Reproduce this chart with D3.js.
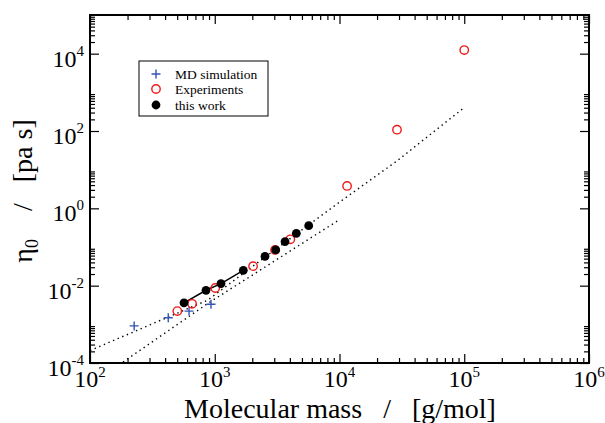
<!DOCTYPE html>
<html>
<head>
<meta charset="utf-8">
<title>Zero-shear viscosity vs molecular mass</title>
<style>
body { margin: 0; background: #fff; }
svg { display: block; }
</style>
</head>
<body>
<svg id="chart" width="605" height="423" font-family="'Liberation Serif', 'Times New Roman', Times, 'DejaVu Serif', 'Noto Serif', serif"></svg>
<script src="https://d3js.org/d3.v7.min.js"></script>
<script>
// data
const mdMass = [226, 424, 622, 933];
const mdEta = [9.1e-4, 1.48e-3, 2.2e-3, 3.3e-3];

const expMass = [501, 658, 1009, 2028, 3043, 4036, 11500, 28900, 100000];
const expEta = [2.2e-3, 3.4e-3, 8.7e-3, 0.032, 0.084, 0.158, 3.8, 108, 12400];

const workMass = [567, 851, 1122, 1694, 2529, 3080, 3659, 4508, 5662];
const workEta = [3.6e-3, 7.6e-3, 0.0113, 0.025, 0.057, 0.084, 0.137, 0.226, 0.356];

// dotted guide curves
const fitAMass = [100, 883, 2028, 10100, 28800, 98200];
const fitAEta = [2.1e-4, 4.26e-3, 0.0322, 1.48, 16.7, 386];
const fitBMass = [184, 883, 9900];
const fitBEta = [1.06e-4, 3.5e-3, 0.5];

const xMajor = [1e2, 1e3, 1e4, 1e5, 1e6];
const xExp = ["2", "3", "4", "5", "6"];
const yMajor = [1e-4, 1e-2, 1e0, 1e2, 1e4];
const yExp = ["-4", "-2", "0", "2", "4"];

const legendItems = ["MD simulation", "Experiments", "this work"];

const svg = d3.select("#chart");
const pLeft = 90, pRight = 589, pTop = 15, pBottom = 363;
const nb = "\u00a0";

const x = d3.scaleLog().domain([1e2, 1e6]).range([pLeft, pRight]);
const y = d3.scaleLog().domain([1e-4, 1e5]).range([pBottom, pTop]);

// minor ticks: 2..9 in each decade (x), and in the decade after each labelled major (y)
const xMinor = [];
[2, 3, 4, 5].forEach(p => { for (let k = 2; k <= 9; k++) xMinor.push(k * Math.pow(10, p)); });
const yMinor = [];
[-4, -2, 0, 2, 4].forEach(p => { for (let k = 2; k <= 9; k++) yMinor.push(k * Math.pow(10, p)); });

const pts = (ms, es) => ms.map((m, i) => [m, es[i]]);
const line = d3.line().x(d => x(d[0])).y(d => y(d[1]));

// dotted curves
[pts(fitAMass, fitAEta), pts(fitBMass, fitBEta)].forEach(p => {
  svg.append("path")
    .attr("d", line(p))
    .attr("fill", "none")
    .attr("stroke", "#000")
    .attr("stroke-width", 1.4)
    .attr("stroke-dasharray", "1.4,3.6");
});

// solid line through the first points of this work
svg.append("path")
  .attr("d", line(pts(workMass, workEta).slice(0, 4)))
  .attr("fill", "none")
  .attr("stroke", "#000")
  .attr("stroke-width", 1.5);

// MD simulation crosses
const blue = "#3354b4";
svg.append("g").selectAll("path")
  .data(pts(mdMass, mdEta))
  .join("path")
  .attr("d", d => `M${x(d[0]) - 4.5},${y(d[1])}h9M${x(d[0])},${y(d[1]) - 4.5}v9`)
  .attr("stroke", blue)
  .attr("stroke-width", 1.4);

// experiments
svg.append("g").selectAll("circle")
  .data(pts(expMass, expEta))
  .join("circle")
  .attr("cx", d => x(d[0]))
  .attr("cy", d => y(d[1]))
  .attr("r", 4.2)
  .attr("fill", "none")
  .attr("stroke", "#f01818")
  .attr("stroke-width", 1.4);

// this work
svg.append("g").selectAll("circle")
  .data(pts(workMass, workEta))
  .join("circle")
  .attr("cx", d => x(d[0]))
  .attr("cy", d => y(d[1]))
  .attr("r", 4.4)
  .attr("fill", "#000");

// frame and ticks (inward on all four sides)
function ticks(axis, scale, vals, size, pos) {
  svg.append("g")
    .attr("transform", pos)
    .call(axis(scale).tickValues(vals).tickSize(size).tickFormat(""))
    .call(g => g.select(".domain").remove())
    .call(g => g.selectAll("line").attr("stroke-width", 1.2));
}
ticks(d3.axisBottom, x, xMajor, -9, `translate(0,${pBottom})`);
ticks(d3.axisBottom, x, xMinor, -5, `translate(0,${pBottom})`);
ticks(d3.axisTop, x, xMajor, -9, `translate(0,${pTop})`);
ticks(d3.axisTop, x, xMinor, -5, `translate(0,${pTop})`);
ticks(d3.axisLeft, y, yMajor, -9, `translate(${pLeft},0)`);
ticks(d3.axisLeft, y, yMinor, -5, `translate(${pLeft},0)`);
ticks(d3.axisRight, y, yMajor, -9, `translate(${pRight},0)`);
ticks(d3.axisRight, y, yMinor, -5, `translate(${pRight},0)`);

svg.append("rect")
  .attr("x", pLeft).attr("y", pTop)
  .attr("width", pRight - pLeft).attr("height", pBottom - pTop)
  .attr("fill", "none")
  .attr("stroke", "#000")
  .attr("stroke-width", 2);

// tick labels with superscript exponents
xMajor.forEach((v, i) => {
  const t = svg.append("text")
    .attr("x", x(v))
    .attr("y", pBottom + 24)
    .attr("text-anchor", "middle")
    .attr("font-size", 24);
  t.append("tspan").text("10");
  t.append("tspan").attr("dy", -10).attr("font-size", 15).text(xExp[i]);
});
yMajor.forEach((v, i) => {
  const t = svg.append("text")
    .attr("x", pLeft - 6)
    .attr("y", y(v) + 13)
    .attr("text-anchor", "end")
    .attr("font-size", 24);
  t.append("tspan").text("10");
  t.append("tspan").attr("dy", -11).attr("font-size", 15).text(yExp[i]);
});

// axis titles
svg.append("text")
  .attr("x", 340)
  .attr("y", 418)
  .attr("text-anchor", "middle")
  .attr("font-size", 28)
  .text(`Molecular mass${nb}${nb} /${nb}${nb}${nb}[g/mol]`);

const yt = svg.append("text")
  .attr("transform", "translate(32,191) rotate(-90)")
  .attr("text-anchor", "middle")
  .attr("font-size", 28);
yt.append("tspan").text("\u03b7");
yt.append("tspan").attr("dy", 6).attr("font-size", 18).text("0");
yt.append("tspan").attr("dy", -6).text(`${nb}${nb}${nb}${nb}/${nb}${nb}${nb}[pa s]`);

// legend
const lg = svg.append("g");
lg.append("rect")
  .attr("x", 139).attr("y", 61)
  .attr("width", 129).attr("height", 55)
  .attr("fill", "#fff")
  .attr("stroke", "#000")
  .attr("stroke-width", 1);
const rowY = [74, 89, 105];
lg.append("path")
  .attr("d", `M151.5,${rowY[0]}h9M156,${rowY[0] - 4.5}v9`)
  .attr("stroke", blue).attr("stroke-width", 1.4);
lg.append("circle").attr("cx", 156).attr("cy", rowY[1]).attr("r", 4.2)
  .attr("fill", "none").attr("stroke", "#f01818").attr("stroke-width", 1.4);
lg.append("circle").attr("cx", 156).attr("cy", rowY[2]).attr("r", 4.4).attr("fill", "#000");
legendItems.forEach((s, i) => {
  lg.append("text")
    .attr("x", 175)
    .attr("y", rowY[i] + 4.5)
    .attr("font-size", 13.5)
    .text(s);
});
</script>
</body>
</html>
